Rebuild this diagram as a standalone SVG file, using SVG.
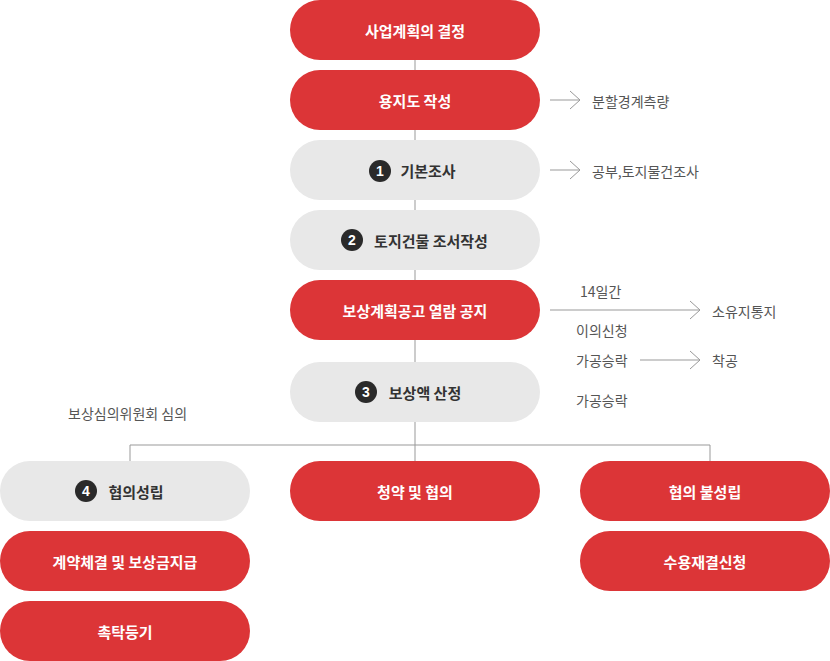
<svg xmlns="http://www.w3.org/2000/svg" width="830" height="661" viewBox="0 0 830 661">
<style>
.r{fill:#dc3537}.g{fill:#e8e8e8}
.t{font-family:"Noto Sans CJK KR",sans-serif;font-size:15px;font-weight:bold;text-anchor:middle;dominant-baseline:central}
.w{fill:#fff}.d{fill:#333}
.s{font-family:"Noto Sans CJK KR",sans-serif;font-size:14px;fill:#555;dominant-baseline:central}
.c{fill:#2a2a2a}.n{font-family:"Liberation Sans",sans-serif;font-size:14px;font-weight:bold;fill:#fff;text-anchor:middle;dominant-baseline:central}
.l{stroke:#999;stroke-width:1;fill:none}
</style>
<g id="connectors">
<path class="l" d="M415 60V362M415 422V445M130 445H710M130 445V461M415 445V461M710 445V461"/>
<path class="l" d="M550 100H580M570 91L580 100L570 109"/>
<path class="l" d="M550 170H580M570 161L580 170L570 179"/>
<path class="l" d="M550 310H700M690 301L700 310L690 319"/>
<path class="l" d="M640 360H700M690 351L700 360L690 369"/>
</g>
<g id="n1"><rect class="r" x="290" y="0" width="250" height="60" rx="30"/><text class="t w" x="415" y="30">사업계획의 결정</text></g>
<g id="n2"><rect class="r" x="290" y="70" width="250" height="60" rx="30"/><text class="t w" x="415" y="100">용지도 작성</text></g>
<g id="n3"><rect class="g" x="290" y="140" width="250" height="60" rx="30"/><circle class="c" cx="380" cy="171" r="11"/><text class="n" x="380" y="171">1</text><text class="t d" x="428" y="170">기본조사</text></g>
<g id="n4"><rect class="g" x="290" y="210" width="250" height="60" rx="30"/><circle class="c" cx="352" cy="240" r="11"/><text class="n" x="352" y="240">2</text><text class="t d" x="431" y="240">토지건물 조서작성</text></g>
<g id="n5"><rect class="r" x="290" y="280" width="250" height="60" rx="30"/><text class="t w" x="415" y="310">보상계획공고 열람 공지</text></g>
<g id="n6"><rect class="g" x="290" y="362" width="250" height="60" rx="30"/><circle class="c" cx="366" cy="392" r="11"/><text class="n" x="366" y="392">3</text><text class="t d" x="425" y="392">보상액 산정</text></g>
<g id="n7"><rect class="g" x="0" y="461" width="250" height="60" rx="30"/><circle class="c" cx="86" cy="491" r="11"/><text class="n" x="86" y="491">4</text><text class="t d" x="136" y="491">협의성립</text></g>
<g id="n8"><rect class="r" x="290" y="461" width="250" height="60" rx="30"/><text class="t w" x="415" y="491">청약 및 협의</text></g>
<g id="n9"><rect class="r" x="580" y="461" width="250" height="60" rx="30"/><text class="t w" x="705" y="491">협의 불성립</text></g>
<g id="n10"><rect class="r" x="0" y="531" width="250" height="60" rx="30"/><text class="t w" x="125" y="561">계약체결 및 보상금지급</text></g>
<g id="n11"><rect class="r" x="580" y="531" width="250" height="60" rx="30"/><text class="t w" x="705" y="561">수용재결신청</text></g>
<g id="n12"><rect class="r" x="0" y="601" width="250" height="60" rx="30"/><text class="t w" x="125" y="631">촉탁등기</text></g>
<g id="labels">
<text class="s" x="592" y="101">분할경계측량</text>
<text class="s" x="592" y="171">공부,토지물건조사</text>
<text class="s" x="580" y="291">14일간</text>
<text class="s" x="712" y="311">소유지통지</text>
<text class="s" x="576" y="330">이의신청</text>
<text class="s" x="576" y="360">가공승락</text>
<text class="s" x="712" y="360">착공</text>
<text class="s" x="576" y="400">가공승락</text>
<text class="s" x="68" y="413">보상심의위원회 심의</text>
</g>
</svg>
